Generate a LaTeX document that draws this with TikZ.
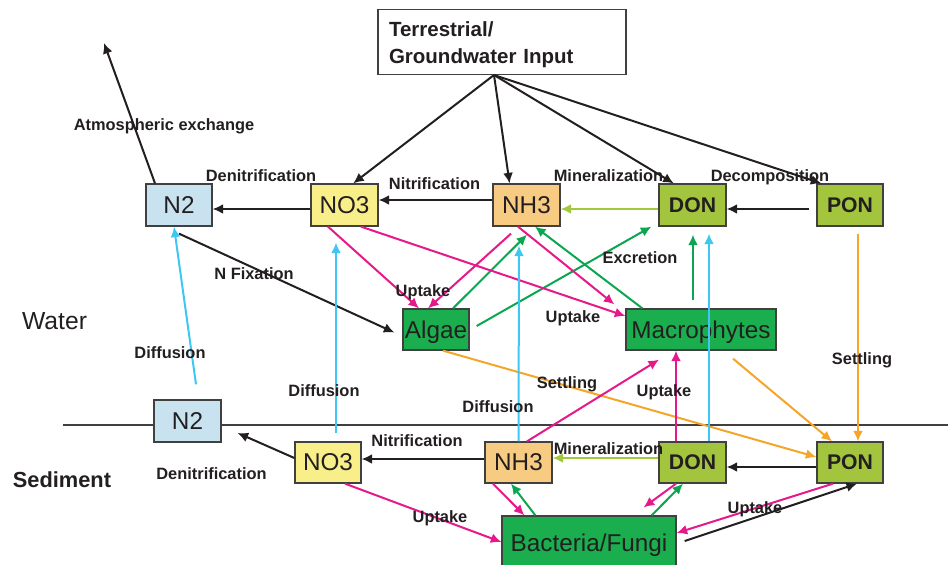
\documentclass[tikz,border=0pt]{standalone}
\usepackage{fontspec}
\setmainfont{Liberation Sans}
\usetikzlibrary{arrows.meta}

\definecolor{boxline}{RGB}{64,64,64}
\definecolor{txt}{RGB}{35,31,32}
\definecolor{arrblack}{RGB}{35,31,32}
\definecolor{pinkarr}{RGB}{229,25,138}
\definecolor{greenarr}{RGB}{11,166,79}
\definecolor{cyanarr}{RGB}{61,199,242}
\definecolor{orangearr}{RGB}{245,165,42}
\definecolor{limearr}{RGB}{162,200,60}
\definecolor{n2fill}{RGB}{200,227,239}
\definecolor{no3fill}{RGB}{249,239,138}
\definecolor{nh3fill}{RGB}{248,203,130}
\definecolor{onfill}{RGB}{163,197,61}
\definecolor{plantfill}{RGB}{26,174,78}

\begin{document}
\begin{tikzpicture}[x=1pt,y=-1pt]
\tikzset{box/.style = {draw=boxline, line width=1.3pt, inner sep=0pt, text depth=0pt, text=txt, minimum width=67pt, minimum height=42pt, font=\fontsize{24.3}{28}\selectfont}}
\tikzset{inputbox/.style = {draw=boxline, line width=1.3pt, fill=white, text=txt, align=left, text width=226pt, inner xsep=11pt, inner ysep=0pt, text height=21pt, minimum height=65pt, font=\fontsize{20.5}{27}\selectfont\bfseries}}
\tikzset{onbox/.style = {box, fill=onfill, font=\fontsize{21.2}{24}\selectfont\bfseries}}
\tikzset{plant/.style = {box, fill=plantfill, minimum height=41pt}}
\tikzset{lbl/.style = {inner sep=0pt, text depth=0pt, text=txt, font=\fontsize{16.4}{18}\selectfont\bfseries}}
\tikzset{edge/.style = {-{Latex[length=10.5pt,width=10pt]}, line width=2pt, color=arrblack}}
\tikzset{upedge/.style = {edge, color=pinkarr}}
\tikzset{exedge/.style = {edge, color=greenarr}}
\tikzset{difedge/.style = {edge, color=cyanarr}}
\tikzset{setedge/.style = {edge, color=orangearr}}
\tikzset{minedge/.style = {edge, color=limearr}}
\clip (0,0) rectangle (948,565);

% water / sediment boundary
\draw[line width=1.2pt, color=boxline] (63,425) -- (948,425);

% boxes
\node[inputbox] (terr) at (502,42) {Terrestrial/\\Groundwater Input};
\node[box, fill=n2fill, minimum width=66pt] (n2w) at (179,205) {N2};
\node[box, fill=no3fill] (no3w) at (344.5,205) {NO3};
\node[box, fill=nh3fill] (nh3w) at (526.5,205) {NH3};
\node[onbox] (donw) at (692.5,205) {DON};
\node[onbox, minimum width=66pt] (ponw) at (850,205) {PON};
\node[plant, minimum width=66pt] (algae) at (436,329.5) {Algae};
\node[plant, minimum width=150pt] (macro) at (701,329.5) {Macrophytes};
\node[box, fill=n2fill] (n2s) at (187.5,421) {N2};
\node[box, fill=no3fill, minimum width=66pt, minimum height=41pt] (no3s) at (328,462.5) {NO3};
\node[box, fill=nh3fill, minimum height=41pt] (nh3s) at (518.5,462.5) {NH3};
\node[onbox, minimum height=41pt] (dons) at (692.5,462.5) {DON};
\node[onbox, minimum width=66pt, minimum height=41pt] (pons) at (850,462.5) {PON};
\node[plant, minimum width=174pt, minimum height=54pt] (bact) at (589,543) {Bacteria/Fungi};

\node[text=txt, inner sep=0pt, text depth=0pt, font=\fontsize{24.7}{28}\selectfont] (water) at (54.5,321) {Water};
\node[text=txt, inner sep=0pt, text depth=0pt, font=\fontsize{21.8}{24}\selectfont\bfseries] (sed) at (62,480) {Sediment};

\coordinate (src) at (494,75);
\coordinate (atm) at (104,43);

% water column
\draw[edge] ([xshift=-24pt]n2w.north) -- (atm);
\draw[edge] ([yshift=-4pt]no3w.west) -- ([yshift=-4pt]n2w.east);
\draw[edge] ([yshift=5pt]nh3w.west) -- ([yshift=5pt]no3w.east);
\draw[minedge] ([yshift=-4pt]donw.west) -- ([yshift=-4pt]nh3w.east);
\draw[edge] ([xshift=-7pt,yshift=-4pt]ponw.west) -- ([yshift=-4pt]donw.east);
\draw[edge] (src) -- (no3w.68);
\draw[edge] (src) -- (nh3w.128);
\draw[edge] (src) -- (donw.131);
\draw[edge] (src) -- (ponw.143);
\draw[edge] ([yshift=-7pt]n2w.south) -- ([xshift=-8pt,yshift=-3pt]algae.west);
\draw[upedge] ([xshift=-16.5pt]no3w.south) -- ([xshift=-17pt]algae.north);
\draw[upedge] ([xshift=-15.5pt,yshift=-7pt]nh3w.south) -- ([xshift=-8pt]algae.north);
\draw[exedge] ([xshift=17pt]algae.north) -- ([xshift=0.5pt,yshift=-8pt]nh3w.south);
\draw[exedge] ([xshift=7pt,yshift=3.5pt]algae.east) -- ([xshift=-7pt]donw.south west);
\draw[upedge] ([xshift=16.5pt]no3w.south) -- ([yshift=13.5pt]macro.west);
\draw[upedge] ([xshift=-8.5pt]nh3w.south) -- ([xshift=-11pt,yshift=4pt]macro.north west);
\draw[exedge] ([xshift=17pt]macro.north west) -- ([xshift=8.5pt]nh3w.south);
\draw[exedge] ([xshift=-8pt,yshift=8pt]macro.north) -- ([xshift=0.5pt,yshift=-8pt]donw.south);
\draw[setedge] ([xshift=7pt]algae.south) -- ([yshift=5.5pt]pons.west);
\draw[setedge] ([xshift=32pt,yshift=-8pt]macro.south) -- ([xshift=-18pt]pons.north);
\draw[setedge] ([xshift=8pt,yshift=-7pt]ponw.south) -- ([xshift=8pt]pons.north);

% diffusion
\draw[difedge] ([xshift=8.5pt,yshift=15pt]n2s.north) -- ([xshift=-5pt]n2w.south);
\draw[difedge] ([xshift=8pt,yshift=8pt]no3s.north) -- ([xshift=-8.5pt,yshift=-16pt]no3w.south);
\draw[difedge] (nh3s.north) -- ([xshift=-7.5pt,yshift=-19pt]nh3w.south);
\draw[difedge] ([xshift=16.5pt]dons.north) -- ([xshift=16.5pt,yshift=-7pt]donw.south);

% sediment
\draw[edge] ([yshift=4.5pt]no3s.west) -- ([xshift=16pt,yshift=-12pt]n2s.east);
\draw[edge] ([yshift=3.5pt]nh3s.west) -- ([yshift=3.5pt]no3s.east);
\draw[minedge] ([yshift=4.5pt]dons.west) -- ([yshift=4.5pt]nh3s.east);
\draw[edge] ([yshift=-4.5pt]pons.west) -- ([yshift=-4.5pt]dons.east);
\draw[upedge] ([xshift=8.5pt]nh3s.north) -- ([xshift=-42pt,yshift=-9pt]macro.south);
\draw[upedge] ([xshift=-16.5pt]dons.north) -- ([xshift=-25pt]macro.south);
\draw[upedge] ([xshift=17pt]no3s.south) -- ([yshift=1pt]bact.west);
\draw[upedge] ([xshift=-25.5pt]nh3s.south) -- ([xshift=23pt]bact.north west);
\draw[exedge] ([xshift=34pt]bact.north west) -- ([xshift=-7.5pt]nh3s.south);
\draw[upedge] ([xshift=-16.5pt]dons.south) -- ([xshift=-33pt,yshift=8pt]bact.north east);
\draw[exedge] ([xshift=-25pt]bact.north east) -- ([xshift=-9.5pt]dons.south);
\draw[upedge] ([xshift=-17pt]pons.south) -- ([yshift=10pt]bact.east);
\draw[edge] ([xshift=8pt,yshift=2pt]bact.east) -- ([xshift=7pt]pons.south);

% labels
\node[lbl] (latm) at (164,125) {Atmospheric exchange};
\node[lbl] (ldenw) at (261,176) {Denitrification};
\node[lbl] (lnitw) at (434.5,183.5) {Nitrification};
\node[lbl] (lminw) at (608.5,176) {Mineralization};
\node[lbl] (ldec) at (770,176) {Decomposition};
\node[lbl] (lfix) at (254,274) {N Fixation};
\node[lbl] (ldif1) at (170,353) {Diffusion};
\node[lbl] (lup1) at (423,291) {Uptake};
\node[lbl] (lexc) at (640,258) {Excretion};
\node[lbl] (lup2) at (573,317) {Uptake};
\node[lbl] (ldif2) at (324,391) {Diffusion};
\node[lbl] (lset1) at (567,383) {Settling};
\node[lbl] (ldif3) at (498,407) {Diffusion};
\node[lbl] (lup3) at (664,391) {Uptake};
\node[lbl] (lset2) at (862,359) {Settling};
\node[lbl] (ldens) at (211.5,474) {Denitrification};
\node[lbl] (lnits) at (417,441) {Nitrification};
\node[lbl] (lmins) at (608.5,449) {Mineralization};
\node[lbl] (lup4) at (440,517) {Uptake};
\node[lbl] (lup5) at (755,508) {Uptake};
\end{tikzpicture}
\end{document}
